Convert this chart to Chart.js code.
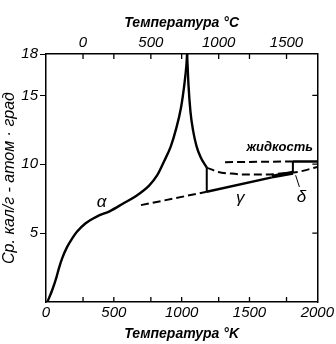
<!DOCTYPE html>
<html><head><meta charset="utf-8">
<script src="https://cdn.jsdelivr.net/npm/chart.js@4"></script>
<style>html,body{margin:0;padding:0;background:#fff}#w{width:336px;height:344px}</style>
</head><body><div id="w"><canvas id="c" width="336" height="344"></canvas></div>
<script>
// Temperature in K, heat capacity Cp in cal/(g-atom·deg)
const alphaT  = [10, 46, 78, 95, 119, 156, 192, 228, 290, 374, 472, 569, 664, 760, 820, 870, 920, 960, 995, 1020, 1035, 1040];
const alphaCp = [0, 0.87, 1.83, 2.44, 3.17, 4.0, 4.6, 5.1, 5.7, 6.2, 6.6, 7.15, 7.7, 8.45, 9.2, 10.2, 11.3, 12.6, 14.1, 15.8, 17.2, 18.0];
const betaT   = [1040, 1050, 1065, 1085, 1110, 1140, 1185];
const betaCp  = [18.0, 15.8, 13.8, 12.4, 11.3, 10.5, 9.75];
const transT  = [1185, 1185];
const transCp = [8.0, 9.75];
const gammaT  = [1185, 1665];
const gammaCp = [8.0, 9.05];
const gammaExtT  = [700, 1185];
const gammaExtCp = [7.03, 8.0];
const deltaT  = [1665, 1820];
const deltaCp = [9.1, 9.38];
const bccExtT  = [1185, 1270, 1365, 1489, 1613, 1730, 1854, 2000];
const bccExtCp = [9.75, 9.44, 9.32, 9.25, 9.25, 9.32, 9.44, 9.8];
const meltT   = [1820, 1820];
const meltCp  = [9.38, 10.2];
const liqT    = [1820, 2000];
const liqCp   = [10.2, 10.2];
const liqExtT  = [1320, 1820];
const liqExtCp = [10.15, 10.2];
const leaderT  = [1840, 1868];
const leaderCp = [9.2, 8.35];
const kelvinTicks = [0, 500, 1000, 1500, 2000];
const celsiusTicks = [0, 500, 1000, 1500];
const cpTicks = [5, 10, 15, 18];
const labels = [
  {text: 'α', t: 409, cp: 7.25},
  {text: 'γ', t: 1431, cp: 7.5},
  {text: 'δ', t: 1883, cp: 7.6},
  {text: 'жидкость', t: 1723, cp: 11.2, bold: true}
];

const pts = (xs, ys) => xs.map((x, i) => ({x, y: ys[i]}));
const FAM = '"Liberation Sans", Arial, sans-serif';
const tickFont = {family: FAM, size: 15, style: 'italic'};
const titleFont = {family: FAM, size: 14, style: 'italic', weight: 'bold'};

function ds(xs, ys, opt) {
  return Object.assign({data: pts(xs, ys), showLine: true, borderColor: '#000', borderWidth: 2.4,
    pointRadius: 0, fill: false, tension: 0}, opt || {});
}
const dash = {borderDash: [8, 4], borderWidth: 2};

const inner = {
  id: 'inner',
  afterDraw(chart) {
    const {ctx, chartArea: a, scales} = chart;
    ctx.save();
    ctx.strokeStyle = '#000';
    ctx.lineWidth = 1.3;
    ctx.beginPath();
    const xs = kelvinTicks.filter(v => v > 0 && v < 2000).map(v => scales.x.getPixelForValue(v))
      .concat(celsiusTicks.map(v => scales.x2.getPixelForValue(v)));
    xs.forEach(px => {
      ctx.moveTo(px, a.bottom); ctx.lineTo(px, a.bottom - 5);
      ctx.moveTo(px, a.top); ctx.lineTo(px, a.top + 5);
    });
    [5, 10, 15].forEach(v => {
      const py = scales.y.getPixelForValue(v);
      ctx.moveTo(a.right, py); ctx.lineTo(a.right - 5, py);
    });
    ctx.stroke();
    ctx.fillStyle = '#000';
    ctx.textAlign = 'center';
    ctx.textBaseline = 'middle';
    labels.forEach(l => {
      ctx.font = (l.bold ? 'italic bold 13px ' : 'italic 17px ') + FAM;
      ctx.fillText(l.text, scales.x.getPixelForValue(l.t), scales.y.getPixelForValue(l.cp));
    });
    ctx.restore();
  }
};

const plain = v => '' + v;

new Chart(document.getElementById('c'), {
  type: 'scatter',
  data: {datasets: [
    ds(alphaT, alphaCp, {cubicInterpolationMode: 'monotone'}),
    ds(betaT, betaCp, {cubicInterpolationMode: 'monotone'}),
    ds(transT, transCp, {borderWidth: 2}),
    ds(gammaT, gammaCp),
    ds(gammaExtT, gammaExtCp, dash),
    ds(deltaT, deltaCp, {borderWidth: 4}),
    ds(bccExtT, bccExtCp, Object.assign({cubicInterpolationMode: 'monotone'}, dash)),
    ds(meltT, meltCp, {borderWidth: 2}),
    ds(liqT, liqCp),
    ds(liqExtT, liqExtCp, dash),
    ds(leaderT, leaderCp, {borderWidth: 1})
  ]},
  options: {
    responsive: false, animation: false,
    layout: {padding: 0, autoPadding: false},
    plugins: {legend: {display: false}, tooltip: {enabled: false}},
    scales: {
      x: {type: 'linear', position: 'bottom', min: 0, max: 2000,
        afterBuildTicks: s => { s.ticks = kelvinTicks.map(v => ({value: v})); },
        ticks: {font: tickFont, color: '#000', padding: 2, maxRotation: 0, autoSkip: false, callback: plain},
        grid: {drawOnChartArea: false, drawTicks: false},
        border: {color: '#000', width: 1.5},
        title: {display: true, text: 'Температура °K', font: titleFont, color: '#000', padding: {top: 0, bottom: 1}},
        afterFit: s => { s.height = 42; }
      },
      x2: {type: 'linear', position: 'top', min: -273, max: 1727,
        afterBuildTicks: s => { s.ticks = celsiusTicks.map(v => ({value: v})); },
        ticks: {font: tickFont, color: '#000', padding: 2, maxRotation: 0, autoSkip: false, callback: plain},
        grid: {drawOnChartArea: false, drawTicks: false},
        border: {color: '#000', width: 1.5},
        title: {display: true, text: 'Температура °C', font: titleFont, color: '#000', padding: {top: 15, bottom: 2}},
        afterFit: s => { s.height = 54; }
      },
      y: {type: 'linear', position: 'left', min: 0, max: 18,
        afterBuildTicks: s => { s.ticks = cpTicks.map(v => ({value: v})); },
        ticks: {font: tickFont, color: '#000', padding: 2, callback: plain},
        grid: {drawOnChartArea: false, drawTicks: true, tickLength: 6, color: '#000', tickColor: '#000'},
        border: {color: '#000', width: 1.5},
        title: {display: true, text: 'Ср. кал/г - атом · град', font: {family: FAM, size: 16, style: 'italic'}, color: '#000', padding: {top: 0, bottom: 0}},
        afterFit: s => { s.width = 46; }
      },
      y2: {type: 'linear', position: 'right', min: 0, max: 18,
        ticks: {display: false},
        grid: {drawOnChartArea: false, drawTicks: false},
        border: {color: '#000', width: 1.5},
        afterFit: s => { s.width = 16; }
      }
    }
  },
  plugins: [inner]
});
</script>
</body></html>
